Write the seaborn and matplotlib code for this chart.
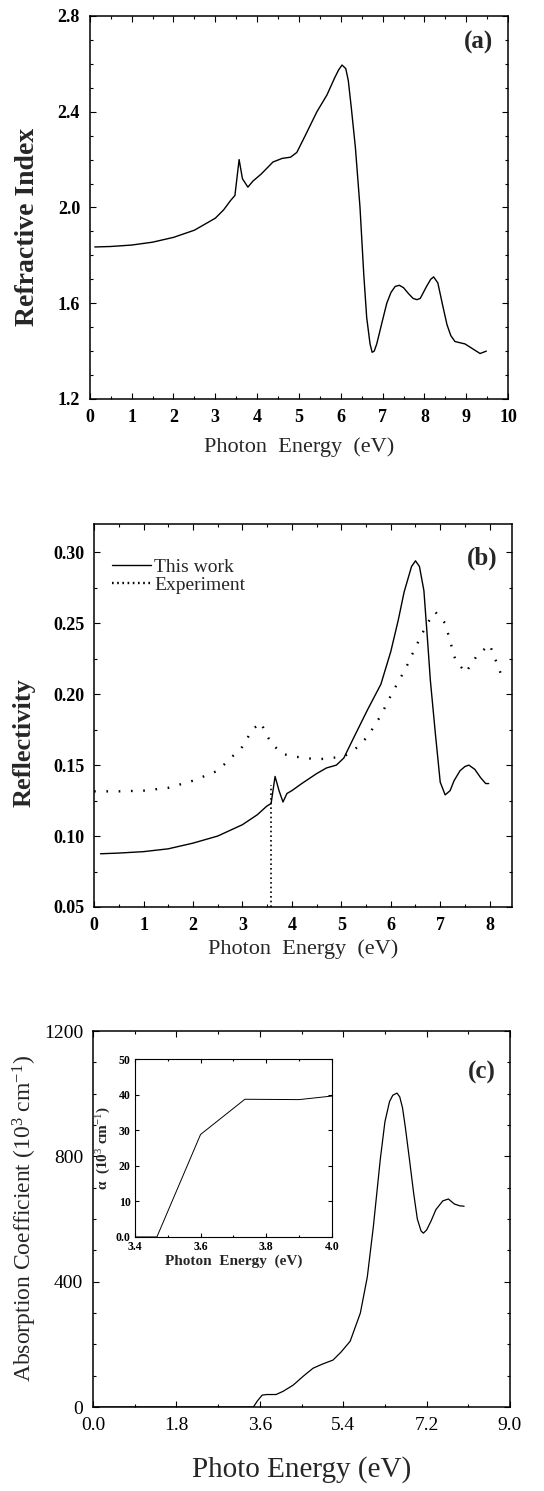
import numpy as np
import pandas as pd
import seaborn as sns
import matplotlib
matplotlib.use("Agg")
import matplotlib.pyplot as plt
from matplotlib.ticker import MultipleLocator
from matplotlib.lines import Line2D

# --- panel (a): refractive index
n_energy = [0.12, 0.5, 1.0, 1.5, 2.0, 2.5, 3.0, 3.2, 3.37, 3.47, 3.57, 3.65, 3.78, 3.9,
            4.1, 4.38, 4.6, 4.8, 4.95, 5.15, 5.43, 5.67, 5.85, 5.95, 6.03, 6.12, 6.18, 6.25,
            6.35, 6.46, 6.55, 6.62, 6.7, 6.75, 6.8, 6.86, 7.0, 7.1, 7.2, 7.3, 7.4, 7.5, 7.62,
            7.73, 7.82, 7.9, 8.05, 8.15, 8.22, 8.32, 8.45, 8.54, 8.63, 8.73, 8.97, 9.15,
            9.33, 9.48]
n_index = [1.835, 1.837, 1.843, 1.855, 1.875, 1.905, 1.955, 1.99, 2.03, 2.05, 2.2, 2.12,
           2.085, 2.11, 2.14, 2.19, 2.205, 2.21, 2.23, 2.3, 2.4, 2.47, 2.54, 2.575, 2.595,
           2.58, 2.53, 2.42, 2.25, 2.0, 1.72, 1.54, 1.43, 1.395, 1.4, 1.43, 1.53, 1.6,
           1.645, 1.67, 1.675, 1.665, 1.64, 1.62, 1.615, 1.62, 1.67, 1.7, 1.71, 1.685,
           1.58, 1.51, 1.465, 1.44, 1.43, 1.41, 1.39, 1.40]

# --- panel (b): reflectivity
r_energy = [0.13, 0.5, 1.0, 1.5, 2.0, 2.5, 3.0, 3.3, 3.49, 3.58, 3.66, 3.74, 3.82, 3.9,
            4.0, 4.2, 4.5, 4.7, 4.9, 5.05, 5.26, 5.53, 5.8, 6.0, 6.15, 6.27, 6.42, 6.5,
            6.58, 6.67, 6.75, 6.8, 6.9, 7.0, 7.1, 7.2, 7.28, 7.4, 7.5, 7.58, 7.7, 7.82,
            7.92, 7.98]
r_calc = [0.0875, 0.088, 0.089, 0.091, 0.095, 0.1, 0.108, 0.115, 0.121, 0.123, 0.142,
          0.132, 0.124, 0.13, 0.132, 0.137, 0.144, 0.148, 0.15, 0.155, 0.17, 0.189, 0.207,
          0.23, 0.252, 0.272, 0.29, 0.294, 0.29, 0.273, 0.235, 0.21, 0.173, 0.138, 0.129,
          0.132, 0.139, 0.146, 0.149, 0.15, 0.147, 0.141, 0.137, 0.137]
exp_energy = [0.0, 0.5, 1.0, 1.5, 2.0, 2.5, 3.0, 3.2, 3.37, 3.57, 3.8, 4.05, 4.52, 5.05,
              5.3, 5.53, 5.8, 6.03, 6.3, 6.5, 6.74, 6.9, 7.1, 7.3, 7.51, 7.74, 8.0, 8.22]
exp_refl = [0.1315, 0.1315, 0.132, 0.134, 0.139, 0.146, 0.163, 0.175, 0.18, 0.166, 0.158,
            0.156, 0.154, 0.156, 0.162, 0.17, 0.185, 0.201, 0.218, 0.233, 0.25, 0.258,
            0.25, 0.225, 0.215, 0.227, 0.235, 0.215]
edge_energy = [3.58, 3.58]
edge_refl = [0.05, 0.136]

# --- panel (c): absorption coefficient
a_energy = [0.0, 3.46, 3.55, 3.65, 3.75, 3.95, 4.1, 4.32, 4.55, 4.75, 4.95, 5.18, 5.35,
            5.55, 5.77, 5.92, 6.05, 6.2, 6.3, 6.4, 6.47, 6.56, 6.62, 6.68, 6.74, 6.83, 6.92,
            7.0, 7.08, 7.13, 7.2, 7.3, 7.4, 7.55, 7.67, 7.8, 7.92, 8.01]
a_coef = [0, 0, 20, 38, 40, 40, 50, 70, 100, 124, 137, 150, 175, 210, 300, 415, 575, 790,
          910, 975, 995, 1002, 990, 955, 894, 790, 683, 600, 562, 555, 565, 595, 630, 658,
          664, 648, 642, 641]

# inset
ins_energy = [3.4, 3.467, 3.6, 3.735, 3.9, 4.0]
ins_alpha = [0, 0, 28.8, 38.7, 38.6, 39.6]

sns.set_theme(style="ticks")
plt.rcParams['font.family'] = ['Liberation Serif', 'DejaVu Serif']
plt.rcParams['mathtext.fontset'] = 'custom'
plt.rcParams['mathtext.rm'] = 'Liberation Serif'
plt.rcParams['mathtext.it'] = 'Liberation Serif:italic'
plt.rcParams['mathtext.bf'] = 'Liberation Serif:bold'
plt.rcParams['axes.linewidth'] = 1.1
plt.rcParams['axes.edgecolor'] = 'black'


def frame(ax, xmaj, xmin, ymaj, ymin, size=4):
    ax.xaxis.set_major_locator(MultipleLocator(xmaj))
    ax.xaxis.set_minor_locator(MultipleLocator(xmin))
    ax.yaxis.set_major_locator(MultipleLocator(ymaj))
    ax.yaxis.set_minor_locator(MultipleLocator(ymin))
    ax.tick_params(which='both', direction='in', top=True, right=True, colors='black',
                   width=0.8)
    ax.tick_params(which='major', length=size, pad=7)
    ax.tick_params(which='minor', length=size * 0.6)
    for s in ax.spines.values():
        s.set_visible(True)
        s.set_color('black')


fig = plt.figure(figsize=(5.44, 14.91), dpi=100)

# (a)
ax1 = fig.add_axes([0.165, 0.7324, 0.769, 0.2569])
sns.lineplot(x=n_energy, y=n_index, ax=ax1, color='black', lw=1.0, sort=False,
             estimator=None)
ax1.set_xlim(0, 10)
ax1.set_ylim(1.2, 2.8)
frame(ax1, 1, 0.5, 0.4, 0.1)
ax1.set_yticks([1.2, 1.6, 2.0, 2.4, 2.8])
ax1.set_yticklabels(['1.2', '1.6', '2.0', '2.4', '2.8'])
for lab in ax1.get_xticklabels() + ax1.get_yticklabels():
    lab.set_fontsize(13)
    lab.set_fontweight('bold')
ax1.set_xlabel('Photon  Energy  (eV)', fontsize=16, labelpad=8)
ax1.set_ylabel('Refractive Index', fontsize=20, fontweight='bold')
ax1.yaxis.set_label_coords(-0.12, 0.45)
ax1.text(0.965, 0.96, '(a)', transform=ax1.transAxes, fontsize=18, fontweight='bold',
         ha='right', va='top')

# (b)
ax2 = fig.add_axes([0.173, 0.3917, 0.768, 0.2569])
sns.lineplot(x=r_energy, y=r_calc, ax=ax2, color='black', lw=1.0, sort=False,
             estimator=None)
sns.lineplot(x=exp_energy, y=exp_refl, ax=ax2, color='black', lw=1.7, sort=False,
             estimator=None, linestyle=(0, (0.7, 4.5)))
sns.lineplot(x=edge_energy, y=edge_refl, ax=ax2, color='black', lw=1.2, sort=False,
             estimator=None, linestyle=(0, (1, 1.8)))
ax2.set_xlim(0, 8.45)
ax2.set_ylim(0.05, 0.32)
frame(ax2, 1, 0.5, 0.05, 0.025)
ax2.set_yticks([0.05, 0.10, 0.15, 0.20, 0.25, 0.30])
ax2.set_yticklabels(['0.05', '0.10', '0.15', '0.20', '0.25', '0.30'])
for lab in ax2.get_xticklabels() + ax2.get_yticklabels():
    lab.set_fontsize(13)
    lab.set_fontweight('bold')
ax2.set_xlabel('Photon  Energy  (eV)', fontsize=16, labelpad=4)
ax2.set_ylabel('Reflectivity', fontsize=19, fontweight='bold')
ax2.yaxis.set_label_coords(-0.14, 0.43)
ax2.text(0.965, 0.94, '(b)', transform=ax2.transAxes, fontsize=18, fontweight='bold',
         ha='right', va='top')
handles = [Line2D([], [], color='black', lw=1.0),
           Line2D([], [], color='black', lw=1.7, linestyle=(0, (0.7, 1.5)))]
ax2.legend(handles, ['This work', 'Experiment'], loc='upper left', frameon=False,
           fontsize=14, handlelength=2.0, handletextpad=0.2, labelspacing=0.0,
           bbox_to_anchor=(0.0, 0.955))

# (c)
ax3 = fig.add_axes([0.171, 0.0563, 0.7665, 0.2522])
sns.lineplot(x=a_energy, y=a_coef, ax=ax3, color='black', lw=0.9, sort=False,
             estimator=None)
ax3.set_xlim(0, 9)
ax3.set_ylim(0, 1200)
frame(ax3, 1.8, 0.9, 400, 100)
ax3.set_xticks([0, 1.8, 3.6, 5.4, 7.2, 9.0])
ax3.set_xticklabels(['0.0', '1.8', '3.6', '5.4', '7.2', '9.0'])
ax3.set_yticks([0, 400, 800, 1200])
ax3.set_yticklabels(['0', '400', '800', '1200'])
for lab in ax3.get_xticklabels() + ax3.get_yticklabels():
    lab.set_fontsize(14)
ax3.set_xlabel('Photo Energy (eV)', fontsize=21, labelpad=16)
ax3.set_ylabel('Absorption Coefficient (10$^{3}$ cm$^{-1}$)', fontsize=17)
ax3.yaxis.set_label_coords(-0.13, 0.5)
ax3.text(0.965, 0.92, '(c)', transform=ax3.transAxes, fontsize=18, fontweight='bold',
         ha='right', va='top')

# inset
ax4 = fig.add_axes([0.248, 0.1704, 0.362, 0.1193])
sns.lineplot(x=ins_energy, y=ins_alpha, ax=ax4, color='black', lw=0.7, sort=False,
             estimator=None)
ax4.set_xlim(3.4, 4.0)
ax4.set_ylim(0, 50)
frame(ax4, 0.2, 0.1, 10, 10, size=3)
ax4.set_xticks([3.4, 3.6, 3.8, 4.0])
ax4.set_xticklabels(['3.4', '3.6', '3.8', '4.0'])
ax4.set_yticks([0, 10, 20, 30, 40, 50])
ax4.set_yticklabels(['0.0', '10', '20', '30', '40', '50'])
ax4.tick_params(which='major', pad=3)
for lab in ax4.get_xticklabels() + ax4.get_yticklabels():
    lab.set_fontsize(8.5)
    lab.set_fontweight('bold')
for s in ax4.spines.values():
    s.set_linewidth(0.8)
ax4.set_xlabel('Photon  Energy  (eV)', fontsize=11, fontweight='bold', labelpad=1)
ax4.set_ylabel('α  (10$^{3}$ cm$^{-1}$)', fontsize=11, fontweight='bold', labelpad=2)

fig.savefig('out.png', dpi=100, facecolor='white')
